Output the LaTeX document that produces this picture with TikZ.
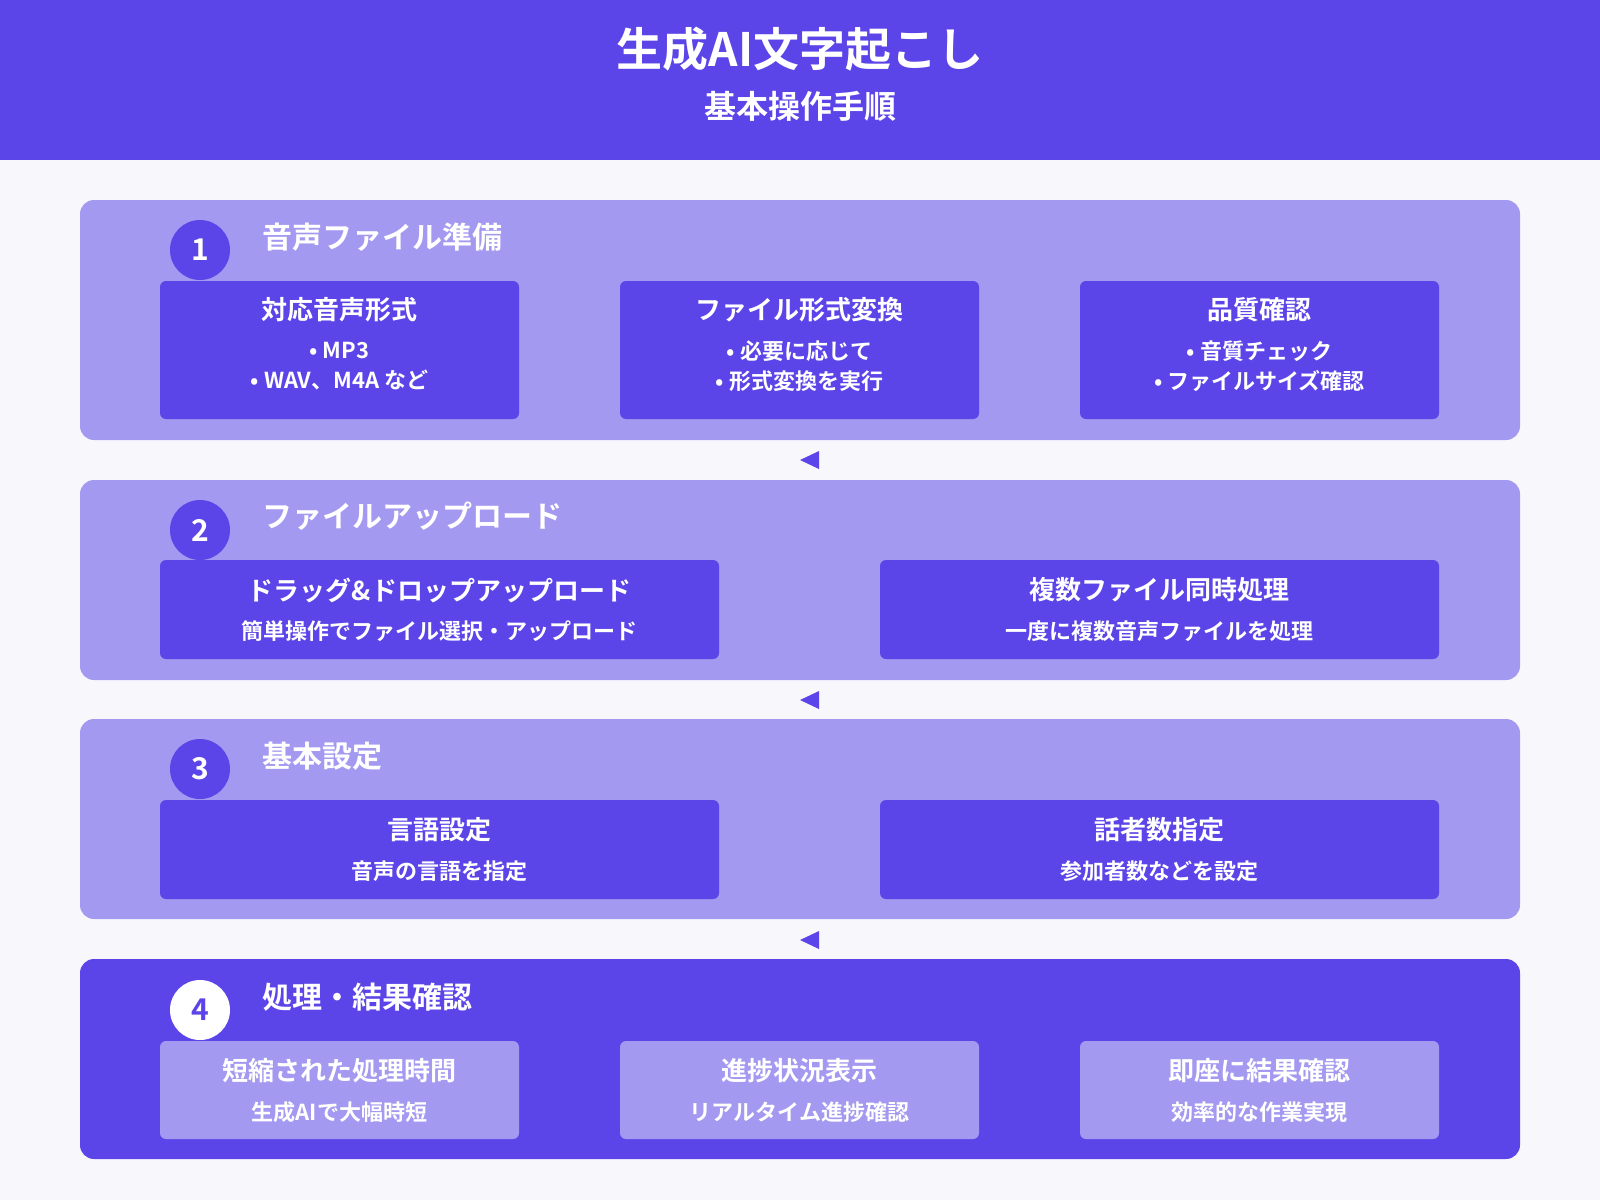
\documentclass[tikz,border=0pt]{standalone}
\usepackage{fontspec}
\setmainfont{Noto Sans CJK JP}[BoldFont={Noto Sans CJK JP Bold}]
\definecolor{hdr}{HTML}{5B45E8}
\definecolor{pnl}{HTML}{A399F0}
\definecolor{bg}{HTML}{F8F8FC}
\begin{document}
\begin{tikzpicture}[x=1pt,y=-1pt,
  panel/.style={fill=pnl,rounded corners=14pt},
  dpanel/.style={fill=hdr,rounded corners=14pt},
  box/.style={fill=hdr,rounded corners=6pt},
  lbox/.style={fill=pnl,rounded corners=6pt},
  num/.style={circle,fill=hdr,minimum size=60pt,inner sep=0pt,text=white,font=\bfseries\fontsize{30}{30}\selectfont},
  wnum/.style={num,fill=white,text=hdr},
  ptitle/.style={anchor=west,text=white,font=\bfseries\fontsize{30}{30}\selectfont},
  btitle/.style={text=white,font=\bfseries\fontsize{26}{26}\selectfont},
  btext/.style={text=white,font=\bfseries\fontsize{22}{30}\selectfont,align=center},
  arr/.style={fill=hdr}]
\useasboundingbox (0,0) rectangle (1600,1200);
\fill[bg] (0,0) rectangle (1600,1200);
\fill[hdr] (0,0) rectangle (1600,160);
\node[text=white,font=\bfseries\fontsize{46}{46}\selectfont] (t) at (800,49) {生成AI文字起こし};
\node[text=white,font=\bfseries\fontsize{32}{32}\selectfont] (st) at (800,106) {基本操作手順};
% panel 1
\fill[panel] (80,200) rectangle (1520,440);
\node[num] (n1) at (200,250) {1};
\node[ptitle] (p1) at (259,237) {音声ファイル準備};
\foreach \x/\t/\a/\b in {160/対応音声形式/• MP3/• WAV、M4A など, 620/ファイル形式変換/• 必要に応じて/• 形式変換を実行, 1080/品質確認/• 音質チェック/• ファイルサイズ確認}{
  \fill[box] (\x,281) rectangle ++(359,138);
  \node[btitle] at (\x+179.5,310) {\t};
  \node[btext] at (\x+179.5,366) {\a\\\b};
}
\fill[arr] (800,460) -- (819,451) -- (819,469) -- cycle;
% panel 2
\fill[panel] (80,480) rectangle (1520,680);
\node[num] (n2) at (200,530) {2};
\node[ptitle] (p2) at (259,516) {ファイルアップロード};
\foreach \x/\t/\a in {160/ドラッグ\&ドロップアップロード/簡単操作でファイル選択・アップロード, 880/複数ファイル同時処理/一度に複数音声ファイルを処理}{
  \fill[box] (\x,560) rectangle ++(559,99);
  \node[btitle] at (\x+279.5,590) {\t};
  \node[btext] at (\x+279.5,631) {\a};
}
\fill[arr] (800,700) -- (819,691) -- (819,709) -- cycle;
% panel 3
\fill[panel] (80,719) rectangle (1520,919);
\node[num] (n3) at (200,769) {3};
\node[ptitle] (p3) at (259,756) {基本設定};
\foreach \x/\t/\a in {160/言語設定/音声の言語を指定, 880/話者数指定/参加者数などを設定}{
  \fill[box] (\x,800) rectangle ++(559,99);
  \node[btitle] at (\x+279.5,830) {\t};
  \node[btext] at (\x+279.5,871) {\a};
}
\fill[arr] (800,940) -- (819,931) -- (819,949) -- cycle;
% panel 4
\fill[dpanel] (80,959) rectangle (1520,1159);
\node[wnum] (n4) at (200,1010) {4};
\node[ptitle] (p4) at (259,997) {処理・結果確認};
\foreach \x/\t/\a in {160/短縮された処理時間/生成AIで大幅時短, 620/進捗状況表示/リアルタイム進捗確認, 1080/即座に結果確認/効率的な作業実現}{
  \fill[lbox] (\x,1041) rectangle ++(359,98);
  \node[btitle] at (\x+179.5,1071) {\t};
  \node[btext] at (\x+179.5,1112) {\a};
}
\end{tikzpicture}
\end{document}
